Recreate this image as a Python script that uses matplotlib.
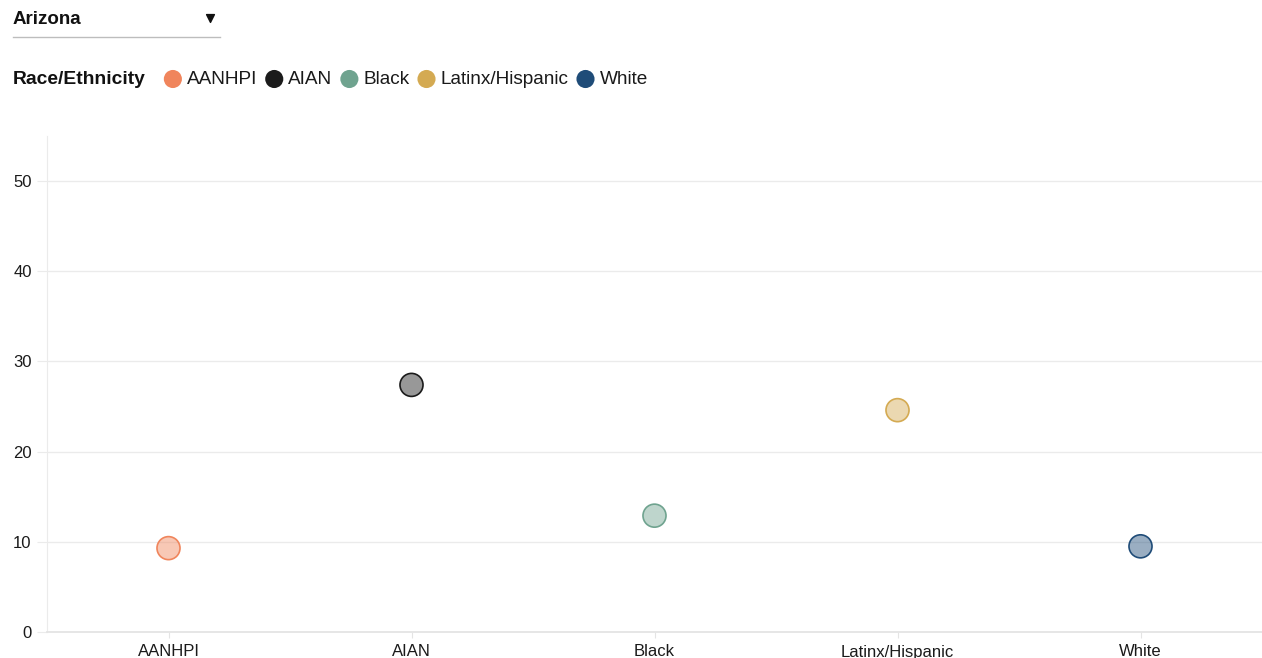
import matplotlib
matplotlib.use("Agg")
import matplotlib.pyplot as plt

plt.rcParams["font.family"] = ["Liberation Sans", "DejaVu Sans"]

groups = ["AANHPI", "AIAN", "Black", "Latinx/Hispanic", "White"]
values = [9.3, 27.4, 12.9, 24.6, 9.5]
colors = ["#F0855C", "#1B1B1B", "#6FA38F", "#D4AA52", "#1F4C78"]
y_ticks = [0, 10, 20, 30, 40, 50]
state = "Arizona"
legend_title = "Race/Ethnicity"

W, H = 1262, 658
fig = plt.figure(figsize=(W / 100, H / 100), dpi=100)

# main plot area
ax = fig.add_axes([47 / W, 26 / H, 1215 / W, 496 / H])
ax.scatter(range(len(groups)), values, s=275, c=colors, alpha=0.45,
           edgecolors="none", zorder=3)
ax.scatter(range(len(groups)), values, s=275, facecolors="none",
           edgecolors=colors, linewidths=1.2, zorder=4)
ax.set_xlim(-0.5, len(groups) - 0.5)
ax.set_ylim(0, 55)
ax.set_xticks(range(len(groups)))
ax.set_xticklabels(groups, fontsize=12, color="#1a1a1a")
ax.set_yticks(y_ticks)
ax.set_yticklabels([str(t) for t in y_ticks], fontsize=12, color="#1a1a1a")
ax.grid(axis="y", color="#ebebeb", linewidth=1)
ax.set_axisbelow(True)
for side in ["top", "right"]:
    ax.spines[side].set_visible(False)
ax.spines["left"].set_color("#ebebeb")
ax.spines["bottom"].set_color("#e4e4e4")
ax.spines["bottom"].set_linewidth(1.3)
ax.tick_params(axis="y", length=7, color="#ebebeb", pad=4)
ax.tick_params(axis="x", length=4, color="#e4e4e4", pad=5)

# header: dropdown + legend, drawn in pixel coords
top = fig.add_axes([0, 0, 1, 1], zorder=5)
top.set_xlim(0, W)
top.set_ylim(H, 0)
top.axis("off")
top.patch.set_alpha(0)

top.text(13, 20, state, fontsize=13.5, fontweight="bold", va="center",
         color="#111111")
top.scatter([210], [18], marker="v", s=32, color="#111111")
top.plot([13, 220], [36.5, 36.5], color="#bdbdbd", linewidth=1)

fig.canvas.draw()
renderer = fig.canvas.get_renderer()
inv = top.transData.inverted()

t = top.text(13, 79, legend_title, fontsize=13.9, fontweight="bold",
             va="center", color="#111111")
x = inv.transform(t.get_window_extent(renderer).get_points())[1][0] + 27
for name, col in zip(groups, colors):
    top.scatter([x], [79], s=170, color=col, edgecolors="none")
    lt = top.text(x + 14, 79, name, fontsize=13.7, va="center",
                  color="#1a1a1a")
    x = inv.transform(lt.get_window_extent(renderer).get_points())[1][0] + 17

fig.savefig("out.png", dpi=100)
